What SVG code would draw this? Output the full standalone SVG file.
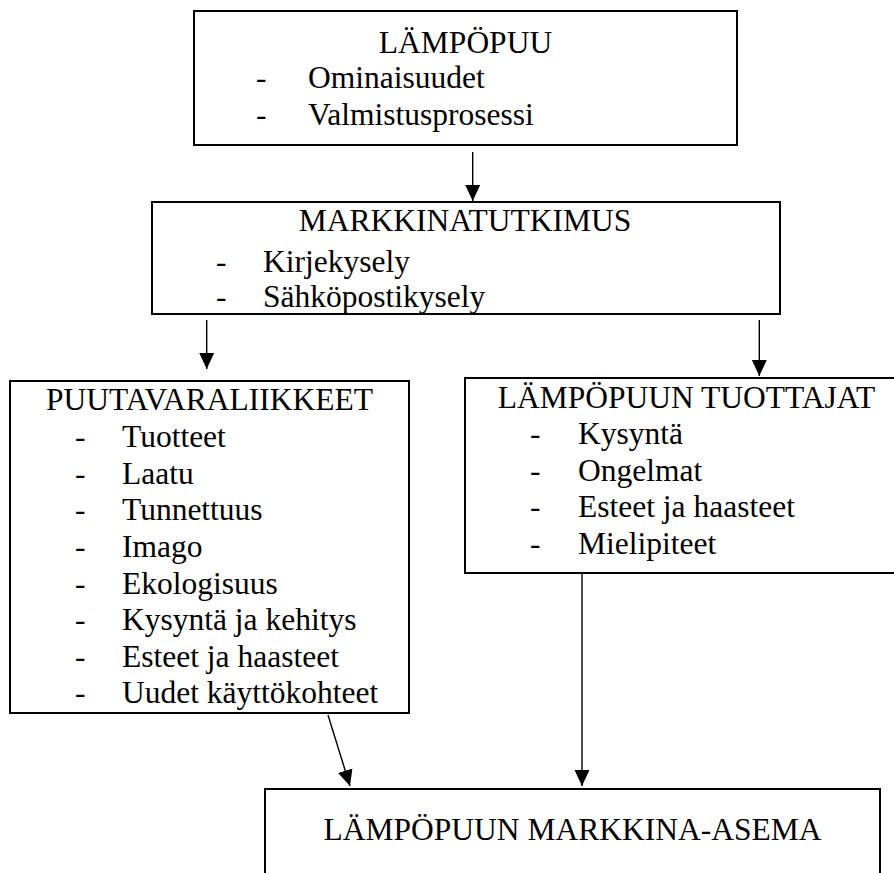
<svg xmlns="http://www.w3.org/2000/svg" width="894" height="873" viewBox="0 0 894 873">
<style>
.box{fill:#fff;stroke:#000;stroke-width:2}
.t{text-anchor:middle}
.c{stroke:#000;stroke-width:1.4;fill:none}
</style>
<defs>
<marker id="ah" markerUnits="userSpaceOnUse" markerWidth="16" markerHeight="16" viewBox="0 0 15 14" refX="15" refY="7" orient="auto">
<path d="M0,0 L15,7 L0,14 Z" fill="#000"/>
</marker>
</defs>
<rect width="894" height="873" fill="#fff"/>
<g id="connectors">
<line class="c" x1="472.7" y1="152" x2="472.7" y2="201" marker-end="url(#ah)"/>
<line class="c" x1="206.7" y1="320" x2="206.7" y2="369" marker-end="url(#ah)"/>
<line class="c" x1="759.3" y1="320" x2="759.3" y2="376" marker-end="url(#ah)"/>
<line class="c" x1="328" y1="715" x2="350" y2="786" marker-end="url(#ah)"/>
<line class="c" x1="582" y1="574" x2="582" y2="786" marker-end="url(#ah)"/>
</g>
<g font-family="Liberation Serif, serif" font-size="31.5" fill="#000">
<g id="lampopuu">
<rect class="box" x="194" y="11" width="543" height="134"/>
<text class="t" x="465.5" y="53">LÄMPÖPUU</text>
<text x="256" y="88">-</text><text x="308" y="88">Ominaisuudet</text>
<text x="256" y="125">-</text><text x="308" y="125">Valmistusprosessi</text>
</g>
<g id="markkinatutkimus">
<rect class="box" x="152" y="202" width="628" height="112"/>
<text class="t" x="465" y="231">MARKKINATUTKIMUS</text>
<text x="216" y="272">-</text><text x="263" y="272">Kirjekysely</text>
<text x="216" y="307">-</text><text x="263" y="307">Sähköpostikysely</text>
</g>
<g id="puutavaraliikkeet">
<rect class="box" x="10" y="381" width="399" height="332"/>
<text class="t" x="209.5" y="410">PUUTAVARALIIKKEET</text>
<text x="75" y="447.3">-</text><text x="122" y="447.3">Tuotteet</text>
<text x="75" y="483.9">-</text><text x="122" y="483.9">Laatu</text>
<text x="75" y="520.4">-</text><text x="122" y="520.4">Tunnettuus</text>
<text x="75" y="557">-</text><text x="122" y="557">Imago</text>
<text x="75" y="593.6">-</text><text x="122" y="593.6">Ekologisuus</text>
<text x="75" y="630.1">-</text><text x="122" y="630.1">Kysyntä ja kehitys</text>
<text x="75" y="666.7">-</text><text x="122" y="666.7">Esteet ja haasteet</text>
<text x="75" y="703.3">-</text><text x="122" y="703.3">Uudet käyttökohteet</text>
</g>
<g id="tuottajat">
<rect class="box" x="465" y="378" width="443" height="195"/>
<text class="t" x="686.5" y="408">LÄMPÖPUUN TUOTTAJAT</text>
<text x="530" y="444">-</text><text x="578" y="444">Kysyntä</text>
<text x="530" y="480.5">-</text><text x="578" y="480.5">Ongelmat</text>
<text x="530" y="517">-</text><text x="578" y="517">Esteet ja haasteet</text>
<text x="530" y="553.7">-</text><text x="578" y="553.7">Mielipiteet</text>
</g>
<g id="markkina-asema">
<rect class="box" x="265" y="789" width="615" height="110"/>
<text class="t" x="572.5" y="840">LÄMPÖPUUN MARKKINA-ASEMA</text>
</g>
</g>
</svg>
